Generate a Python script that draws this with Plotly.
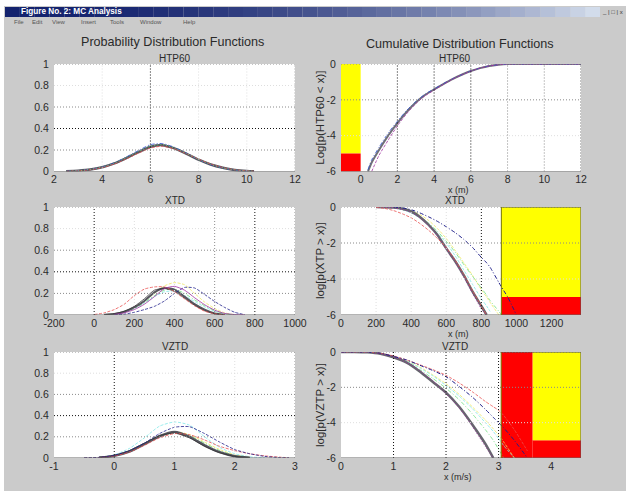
import plotly.graph_objects as go

# ---------- data ----------
htp_pdf_x = [2.5, 3, 3.5, 4, 4.5, 5, 5.5, 6, 6.5, 7, 7.5, 8, 8.5, 9, 9.5, 10, 10.3]
htp_pdf_main = [.003, .008, .018, .04, .075, .125, .18, .23, .245, .215, .165, .11, .065, .035, .015, .005, .002]
htp_pdf_a = [.003, .009, .02, .043, .08, .135, .195, .25, .26, .225, .17, .11, .063, .033, .014, .004, .001]
htp_pdf_b = [.002, .007, .016, .037, .07, .118, .17, .218, .235, .21, .165, .115, .07, .037, .016, .006, .002]
htp_pdf_c = [.003, .008, .019, .042, .078, .13, .185, .235, .25, .22, .168, .112, .066, .034, .015, .005, .002]

xtd_pdf_x = [0, 50, 100, 150, 200, 250, 300, 350, 400, 450, 500, 550, 600, 650, 700, 750]
xtd_pdf_main = [None, .002, .01, .03, .07, .13, .21, .25, .235, .17, .10, .05, .015, .003, None, None]
xtd_pdf_dark = [None, .003, .012, .035, .08, .15, .23, .245, .22, .155, .09, .04, .012, .002, None, None]
xtd_pdf_red = [.004, .02, .05, .1, .18, .24, .26, .26, .215, .15, .085, .035, .012, .002, None, None]
xtd_pdf_navy = [None, None, .002, .008, .025, .05, .08, .13, .2, .255, .25, .19, .125, .07, .025, .003]
xtd_pdf_yellow = [None, None, .01, .03, .07, .13, .2, .27, .3, .28, .2, .12, .06, .02, .002, None]
xtd_pdf_cyan = [None, .002, .008, .025, .06, .11, .17, .215, .22, .18, .125, .075, .035, .01, .001, None]
xtd_pdf_green = [None, .002, .008, .025, .06, .115, .18, .23, .24, .2, .14, .085, .04, .012, .002, None]
xtd_pdf_purple = [None, None, .006, .02, .05, .1, .17, .245, .265, .23, .16, .095, .045, .015, .004, .001]

vz_pdf_x = [-.5, -.25, 0, .25, .5, .75, 1, 1.25, 1.5, 1.75, 2, 2.25, 2.5, 2.75, 2.9]
vz_pdf_main = [None, .004, .02, .06, .13, .205, .245, .2, .12, .055, .017, .003, None, None, None]
vz_pdf_dark = [None, .005, .025, .07, .14, .21, .235, .19, .11, .05, .015, .002, None, None, None]
vz_pdf_cyan = [.001, .005, .03, .09, .19, .3, .34, .31, .2, .1, .04, .012, .002, None, None]
vz_pdf_navy = [.002, .006, .025, .07, .14, .23, .29, .295, .23, .15, .08, .04, .015, .004, .001]
vz_pdf_red = [.001, .005, .02, .055, .12, .19, .23, .22, .17, .11, .07, .04, .02, .008, .002]
vz_pdf_green = [None, .003, .02, .06, .13, .2, .24, .21, .14, .07, .025, .004, None, None, None]
vz_pdf_yellow = [None, .004, .022, .065, .135, .21, .25, .22, .15, .08, .03, .006, None, None, None]

htp_cdf_x = [.4, .6, 1, 1.5, 2, 2.5, 3, 3.5, 4, 4.5, 5, 5.5, 6, 6.5, 7, 7.5, 8, 9, 10, 12]
htp_cdf_main = [-6, -5.5, -4.8, -4.0, -3.3, -2.68, -2.15, -1.73, -1.42, -1.12, -.84, -.6, -.39, -.23, -.11, -.04, 0, 0, 0, 0]
htp_cdf_a = [-5.9, -5.35, -4.65, -3.85, -3.2, -2.6, -2.1, -1.69, -1.39, -1.1, -.83, -.6, -.39, -.23, -.11, -.04, 0, 0, 0, 0]
htp_cdf_b = [None, -6, -5.1, -4.25, -3.45, -2.78, -2.22, -1.78, -1.46, -1.14, -.85, -.61, -.4, -.23, -.11, -.04, 0, 0, 0, 0]

xtd_cdf_x = [200, 250, 300, 350, 400, 450, 500, 550, 600, 650, 700, 750, 800, 830, 850, 900, 915, 950, 1000]
xtd_cdf_main = [0, -.01, -.03, -.1, -.25, -.55, -1, -1.55, -2.3, -3, -3.8, -4.7, -5.5, -6, None, None, None, None, None]
xtd_cdf_dark = [0, -.01, -.05, -.14, -.3, -.6, -1.05, -1.6, -2.35, -3.05, -3.9, -4.8, -5.65, -6, None, None, None, None, None]
xtd_cdf_red = [-.02, -.08, -.2, -.38, -.6, -.92, -1.3, -1.75, -2.25, -2.95, -3.75, -4.65, -5.5, -6, None, None, None, None, None]
xtd_cdf_navy = [None, None, 0, -.05, -.15, -.33, -.55, -.8, -1.1, -1.42, -1.8, -2.25, -2.8, -3.1, -3.35, -4.2, -4.45, -5, -6]
xtd_cdf_green = [None, None, -.05, -.14, -.3, -.55, -.9, -1.35, -1.9, -2.5, -3.2, -3.85, -4.5, -4.9, -5.2, -5.8, -6, None, None]
xtd_cdf_cyan = [None, None, -.04, -.15, -.33, -.62, -1.0, -1.45, -2.0, -2.7, -3.5, -4.3, -5.1, -5.5, -5.8, None, None, None, None]
xtd_cdf_yellow = [None, None, -.02, -.08, -.2, -.42, -.75, -1.2, -1.75, -2.4, -3.1, -3.8, -4.6, -5.0, -5.3, -6, None, None, None]

vz_cdf_x = [0, .25, .5, .75, 1, 1.25, 1.5, 1.75, 2, 2.25, 2.5, 2.75, 2.9, 3, 3.1, 3.3, 3.55]
vz_cdf_main = [0, 0, -.02, -.1, -.3, -.6, -1.1, -1.7, -2.3, -3.1, -4.1, -5.2, -6, None, None, None, None]
vz_cdf_dark = [0, 0, -.02, -.1, -.28, -.6, -1.05, -1.65, -2.35, -3.15, -4.2, -5.35, -6, None, None, None, None]
vz_cdf_red = [0, 0, -.01, -.07, -.22, -.45, -.72, -1.0, -1.32, -1.75, -2.25, -2.8, -3.1, -3.3, -3.6, -4.4, -5.6]
vz_cdf_navy = [0, 0, -.01, -.07, -.25, -.45, -.75, -1.05, -1.4, -1.95, -2.55, -3.25, -3.7, -4.0, -4.3, -5, -6]
vz_cdf_green = [0, 0, -.02, -.1, -.3, -.6, -1.0, -1.5, -2.05, -2.7, -3.5, -4.4, -5.0, -5.5, -6, None, None]
vz_cdf_cyan = [0, 0, -.02, -.09, -.27, -.52, -.9, -1.35, -1.9, -2.5, -3.2, -4.0, -4.5, -4.9, -5.3, -6, None]
vz_cdf_yellow = [0, 0, -.01, -.08, -.26, -.5, -.85, -1.3, -1.8, -2.4, -3.1, -3.85, -4.35, -4.7, -5.1, -6, None]

ptitles = ["HTP60", "HTP60", "XTD", "XTD", "VZTD", "VZTD"]
xranges = [[2, 12], [-1.07, 12], [-200, 1000], [0, 1368], [-1, 3], [0, 4.57]]
yranges = [[0, 1], [-6, 0], [0, 1], [-6, 0], [0, 1], [-6, 0]]
xticks = [[2, 4, 6, 8, 10, 12], [0, 2, 4, 6, 8, 10, 12], [-200, 0, 200, 400, 600, 800, 1000],
          [0, 200, 400, 600, 800, 1000, 1200], [-1, 0, 1, 2, 3], [0, 1, 2, 3, 4]]
yticks_pdf = [0, .2, .4, .6, .8, 1]
yticks_cdf = [-6, -4, -2, 0]
ylabels = [None, "Log[p(HTP60 < x)]", None, "log[p(XTP > x)]", None, "log[p(VZTP > x)]"]
xlabels = [None, "x (m)", None, "x (m)", None, "x (m/s)"]

# grid-line darkness per panel: (position, colour)
K, M, F = "#111111", "#8a8a8a", "#dedede"
xgrid = [[(4, F), (6, K), (8, F), (10, F), (12, M)],
         [(2, K), (4, K), (6, K), (8, M), (10, M), (12, K)],
         [(0, K), (200, F), (400, F), (600, M), (800, K), (1000, M)],
         [(200, F), (400, F), (600, F), (800, K)],
         [(0, K), (1, F), (2, F), (3, M)],
         [(1, K), (2, K), (3, K)]]
ygrid_pdf = [(.2, M), (.4, K), (.6, M), (.8, F), (1, M)]
ygrid_cdf = [(-4, F), (-2, M), (0, M)]
shades = {1: [(-1.07, 0, -5, 0, "#ffff00"), (-1.07, 0, -6, -5, "#ff0000")],
          3: [(914, 1368, -5, 0, "#ffff00"), (914, 1368, -6, -5, "#ff0000")],
          5: [(3.05, 3.65, -6, 0, "#ff0000"), (3.65, 4.57, -6, -5, "#ff0000"), (3.65, 4.57, -5, 0, "#ffff00")]}
shade_edges = {3: 914, 5: 3.05}

GREY, BAND = "#cbcbcb", "#56565f"
BLUE, NAVY, GREEN, RED, CYAN, YEL, PUR = "#3050d0", "#20208a", "#70e080", "#e85050", "#80e8e8", "#f0e860", "#a030a0"
DASH, DASHDOT, DOTS = "3px,1.5px", "4px,2px,1px,2px", "1px,2px"
series = [
    (htp_pdf_x, [(htp_pdf_main, BAND, 2.5, "solid"), (htp_pdf_a, BLUE, .8, DASHDOT), (htp_pdf_b, RED, .8, DASH), (htp_pdf_c, GREEN, .8, DOTS)]),
    (htp_cdf_x, [(htp_cdf_main, "#707078", 2, "solid"), (htp_cdf_a, BLUE, .8, DASHDOT), (htp_cdf_b, PUR, .8, DASH)]),
    (xtd_pdf_x, [(xtd_pdf_yellow, YEL, .8, DASH), (xtd_pdf_cyan, CYAN, .8, DASH), (xtd_pdf_green, GREEN, .8, DASHDOT), (xtd_pdf_main, BAND, 2, "solid"), (xtd_pdf_dark, "#333333", .8, "solid"), (xtd_pdf_red, RED, .8, DASH), (xtd_pdf_navy, NAVY, .8, DASH), (xtd_pdf_purple, PUR, .8, "solid")]),
    (xtd_cdf_x, [(xtd_cdf_yellow, YEL, .8, DASH), (xtd_cdf_cyan, CYAN, .8, DASH), (xtd_cdf_green, GREEN, .8, DASHDOT), (xtd_cdf_main, "#66666e", 2.5, "solid"), (xtd_cdf_dark, PUR, 1, DOTS), (xtd_cdf_red, RED, .8, DASH), (xtd_cdf_navy, NAVY, 1, DASHDOT)]),
    (vz_pdf_x, [(vz_pdf_cyan, CYAN, .8, DASH), (vz_pdf_yellow, YEL, .8, DASH), (vz_pdf_green, GREEN, .8, DASHDOT), (vz_pdf_main, BAND, 2.5, "solid"), (vz_pdf_dark, "#333333", .8, "solid"), (vz_pdf_red, RED, .8, DASH), (vz_pdf_navy, NAVY, .8, DASH)]),
    (vz_cdf_x, [(vz_cdf_yellow, YEL, .8, DASH), (vz_cdf_cyan, CYAN, .8, DASH), (vz_cdf_green, GREEN, .8, DASHDOT), (vz_cdf_main, "#66666e", 2.5, "solid"), (vz_cdf_dark, PUR, 1, DOTS), (vz_cdf_red, RED, .8, DASH), (vz_cdf_navy, NAVY, 1, DASHDOT)]),
]

# ---------- layout in pixels ----------
W, H = 626, 493
col_px = [(54, 295), (341, 581)]
row_px = [(64, 171.5), (207, 315), (352, 458)]
FONT = "Liberation Sans"
TXT = "#2a2a2a"
GRIDDASH = "1px,2px"

fig = go.Figure()
layout = dict(width=W, height=H, margin=dict(l=0, r=0, t=0, b=0, pad=0, autoexpand=False), paper_bgcolor=GREY,
              plot_bgcolor="white", showlegend=False, font=dict(family=FONT, color=TXT, size=10.5))
shapes, annotations = [], []


def fx(p):
    return p / W


def fy(p):
    return 1 - p / H


# white page margin round the window, title bar gradient
for a, b, c_, d in [(0, W, 0, 6), (0, 4, 0, H), (0, W, 491, H)]:
    shapes.append(dict(type="rect", xref="paper", yref="paper", x0=fx(a), x1=fx(b), y0=fy(d), y1=fy(c_),
                       fillcolor="white", line_width=0, layer="below"))
for i in range(40):
    t = i / 39
    c = "rgb(%d,%d,%d)" % (20 + t * t * 190, 35 + t * t * 185, 110 + t * t * 125)
    shapes.append(dict(type="rect", xref="paper", yref="paper", x0=fx(5 + i * 14.875), x1=fx(5 + (i + 1) * 14.875),
                       y0=fy(17), y1=fy(7), fillcolor=c, line_width=0, layer="below"))


def text(px, py, s, size, color=TXT, xanchor="center", **kw):
    annotations.append(dict(xref="paper", yref="paper", x=fx(px), y=fy(py), text=s, showarrow=False,
                            xanchor=xanchor, yanchor="middle",
                            font=dict(size=size, color=color, family=FONT), **kw))


text(19, 12, "<b>Figure No. 2: MC Analysis</b>", 8.2, "white", xanchor="left")
menu_names = ["File", "Edit", "View", "Insert", "Tools", "Window", "Help"]
menu_px = [12, 30, 50, 79, 108, 138, 181]
for name, p in zip(menu_names, menu_px):
    text(p, 22, name, 6, "#555555", xanchor="left")
text(612, 12, "_ | □ | x", 6, "#333333")
text(172, 42, "Probability Distribution Functions", 12.6)
text(460, 44.5, "Cumulative Distribution Functions", 12.6)

for i in range(6):
    n = i + 1
    r, c = i // 2, i % 2
    x0, x1 = col_px[c]
    y0, y1 = row_px[r]
    ax = "" if n == 1 else str(n)
    is_pdf = c == 0
    yvals = yticks_pdf if is_pdf else yticks_cdf
    layout["xaxis" + ax] = dict(domain=[fx(x0), fx(x1)], range=xranges[i], anchor="y" + ax, showgrid=False,
                                zeroline=False, tickvals=xticks[i], ticktext=[str(v) for v in xticks[i]],
                                ticks="", showline=False, tickfont=dict(size=10.5, color=TXT))
    layout["yaxis" + ax] = dict(domain=[fy(y1), fy(y0)], range=yranges[i], anchor="x" + ax, showgrid=False,
                                zeroline=False, tickvals=yvals, ticktext=[str(v) for v in yvals],
                                ticks="outside", ticklen=2, tickcolor="rgba(0,0,0,0)",
                                showline=False, tickfont=dict(size=10.5, color=TXT))
    xref, yref = "x" + ax, "y" + ax
    for s in shades.get(i, []):
        shapes.append(dict(type="rect", xref=xref, yref=yref, x0=s[0], x1=s[1], y0=s[2], y1=s[3],
                           fillcolor=s[4], line_width=0, layer="below"))
    for v, col in xgrid[i]:
        shapes.append(dict(type="line", xref=xref, yref=yref, x0=v, x1=v, y0=yranges[i][0], y1=yranges[i][1],
                           line=dict(color=col, width=1, dash=GRIDDASH), layer="above"))
    for v, col in (ygrid_pdf if is_pdf else ygrid_cdf):
        shapes.append(dict(type="line", xref=xref, yref=yref, x0=xranges[i][0], x1=xranges[i][1], y0=v, y1=v,
                           line=dict(color=col, width=1, dash=GRIDDASH), layer="above"))
    shapes.append(dict(type="line", xref=xref, yref=yref, x0=xranges[i][0], x1=xranges[i][1],
                       y0=yranges[i][0], y1=yranges[i][0], line=dict(color="#666666", width=1), layer="above"))
    if i in shade_edges:
        e = shade_edges[i]
        shapes.append(dict(type="line", xref=xref, yref=yref, x0=e, x1=e, y0=-6, y1=0,
                           line=dict(color="#777700", width=1), layer="above"))
        shapes.append(dict(type="line", xref=xref, yref=yref, x0=xranges[i][1], x1=xranges[i][1],
                           y0=-6, y1=0, line=dict(color="#555555", width=1), layer="above"))
        shapes.append(dict(type="line", xref=xref, yref=yref, x0=e, x1=xranges[i][1],
                           y0=0, y1=0, line=dict(color="#555555", width=1), layer="above"))
    xs, curves = series[i]
    for ys, col, w, d in curves:
        fig.add_trace(go.Scatter(x=xs, y=ys, mode="lines", xaxis=xref, yaxis=yref, hoverinfo="skip",
                                 line=dict(color=col, width=w, dash=d, shape="spline", smoothing=0.6)))
    text((x0 + x1) / 2 + (0 if is_pdf else -6), y0 - 6, ptitles[i], 10)
    if ylabels[i]:
        text(x0 - 21, (y0 + y1) / 2, ylabels[i], 11.5, textangle=-90)
        text((x0 + x1) / 2 - 3, y1 + 18.5, xlabels[i], 9)

layout["shapes"] = shapes
layout["annotations"] = annotations
fig.update_layout(**layout)
fig.write_html("out.html", config={"displayModeBar": False},
               post_script="document.body.style.margin='0';document.body.style.overflow='hidden';")
